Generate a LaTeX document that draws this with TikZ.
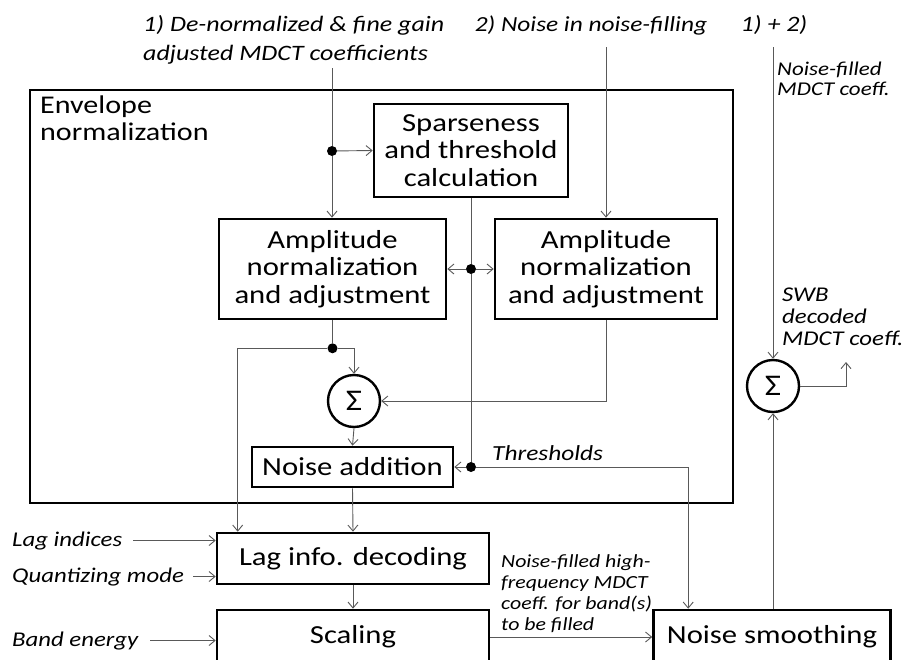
\documentclass[tikz,border=0pt]{standalone}
\usepackage{fontspec}
\setmainfont{Carlito}[FakeStretch=1.18]
\usetikzlibrary{arrows.meta,positioning}

\begin{document}
\begin{tikzpicture}[x=1pt,y=-1pt,
    box/.style={draw, line width=2.6pt, align=center, inner sep=0pt, font=\fontsize{26}{27.5}\selectfont},
    sumnode/.style={draw, circle, line width=2.4pt, minimum size=52pt, inner sep=0pt, font=\fontsize{30}{30}\selectfont},
    wire/.style={black!65, line width=0.9pt},
    conn/.style={wire, -{Straight Barb[length=6pt,width=10pt]}},
    lab/.style={font=\itshape\fontsize{22}{29}\selectfont, inner sep=0pt, align=left},
    dot/.style={circle, fill, inner sep=0pt, minimum size=10pt}]
  \path[use as bounding box, clip] (0,0) rectangle (908,659);

  % envelope normalization part
  \node[draw, line width=2.6pt, minimum width=703pt, minimum height=413pt, inner sep=0pt] (env) at (381.5,296.5) {};
  \node[font=\fontsize{25.5}{27}\selectfont, align=left, inner sep=0pt, anchor=west] (envtitle) at (40,118) {Envelope\\normalization};

  \node[box, minimum width=194pt, minimum height=93pt] (spars) at (471,150.5) {Sparseness\\and threshold\\calculation};
  \node[box, minimum width=227pt, minimum height=100pt] (amp1) at (332.5,269) {Amplitude\\normalization\\and adjustment};
  \node[box, minimum width=222pt, minimum height=100pt] (amp2) at (606,269) {Amplitude\\normalization\\and adjustment};
  \node[sumnode] (sig1) at (354,401) {Σ};
  \node[box, minimum width=201pt, minimum height=40pt] (noiseadd) at (352.5,467) {Noise addition};

  % decoding chain
  \node[box, minimum width=272pt, minimum height=51pt] (lag) at (353,558.5) {Lag info. decoding};
  \node[box, minimum width=272pt, minimum height=54pt] (scale) at (353,637) {Scaling};
  \node[box, minimum width=237pt, minimum height=54pt] (smooth) at (772,637) {Noise smoothing};
  \node[sumnode] (sig2) at (773,386) {Σ};

  % labels
  \node[lab, anchor=west] (in1lab) at (143,39.5) {1) De-normalized \& fine gain\\adjusted MDCT coefficients};
  \node[lab, font=\itshape\fontsize{21.5}{29}\selectfont] (in2lab) at (591,25) {2) Noise in noise-filling};
  \node[lab] (in3lab) at (774,25) {1) + 2)};
  \node[lab, font=\itshape\fontsize{19.5}{20.5}\selectfont, anchor=west] (nflab) at (777,79) {Noise-filled\\MDCT coeff.};
  \node[lab, font=\itshape\fontsize{21}{22}\selectfont, anchor=west] (swblab) at (782,317) {SWB\\decoded\\MDCT coeff.};
  \node[lab, font=\itshape\fontsize{18.5}{21}\selectfont, anchor=west] (hflab) at (501,594) {Noise-filled high-\\frequency MDCT\\coeff. for band(s)\\to be filled};
  \node[lab, font=\itshape\fontsize{21.5}{29}\selectfont, anchor=base west] (thrlab) at (492,460) {Thresholds};
  \node[lab, font=\itshape\fontsize{21}{29}\selectfont, anchor=base west] (lagidx) at (12,546) {Lag indices};
  \node[lab, font=\itshape\fontsize{21}{29}\selectfont, anchor=base west] (qmode) at (12,582) {Quantizing mode};
  \node[lab, font=\itshape\fontsize{21}{29}\selectfont, anchor=base west] (benergy) at (12,646) {Band energy};

  % branch points
  \node[dot] (d1) at (332,151) {};
  \node[dot] (d2) at (spars.south |- amp1.east) {};
  \node[dot] (d3) at ([yshift=-28pt]amp1.south) {};
  \node[dot] (d4) at (spars.south |- noiseadd.east) {};
  \coordinate (in1) at (332,68);
  \coordinate (in2) at (606,47);
  \coordinate (in3) at (773,47);
  \coordinate (out) at (846,362);

  \draw[conn] (in1) -- (d1) -- (in1 |- amp1.north);
  \draw[conn] (d1) -- (spars.west);
  \draw[conn] (in2) -- (in2 |- amp2.north);
  \draw[wire] (spars.south) -- (d2) -- (d4);
  \draw[conn] (d2) -- (amp1.east);
  \draw[conn] (d2) -- (amp2.west);
  \draw[wire] (amp1.south) -- (d3);
  \draw[conn] (d3) -| (sig1.north);
  \draw[conn] (d3) -| ([xshift=22pt]lag.north west);
  \draw[conn] (amp2.south) |- (sig1.east);
  \draw[conn] (sig1.south) -- (noiseadd.north);
  \draw[conn] (d4) -- (noiseadd.east);
  \draw[conn] (d4) -| ([xshift=36pt]smooth.north west);
  \draw[conn] (noiseadd.south) -- (lag.north);
  \draw[conn] ([xshift=11pt]lagidx.east) -- (lagidx.east -| lag.west);
  \draw[conn] ([xshift=9pt]qmode.east) -- (qmode.east -| lag.west);
  \draw[conn] (lag.south) -- (scale.north);
  \draw[conn] ([xshift=12pt]benergy.east) -- (benergy.east -| scale.west);
  \draw[conn] (scale.east) -- (smooth.west);
  \draw[conn] (smooth.north -| sig2.south) -- (sig2.south);
  \draw[conn] (in3) -- (sig2.north);
  \draw[conn] (sig2.east) -| (out);
\end{tikzpicture}
\end{document}
